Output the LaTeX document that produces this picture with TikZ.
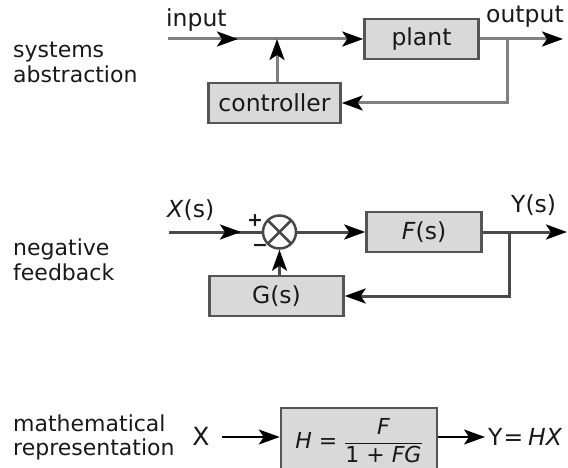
\documentclass[tikz,border=0pt]{standalone}
\usepackage{fontspec}
\setmainfont{DejaVu Sans}
\usetikzlibrary{arrows.meta}
\definecolor{topline}{HTML}{808080}
\definecolor{midline}{HTML}{4A4A4A}
\definecolor{boxfill}{HTML}{D9D9D9}
\definecolor{boxline}{HTML}{555555}
\begin{document}
\begin{tikzpicture}[x=1pt,y=-1pt,
  lbl/.style={font=\fontsize{22}{25}\selectfont, inner sep=0pt, text=black!90},
  big/.style={font=\fontsize{23.5}{25}\selectfont},
  blk/.style={draw=boxline, fill=boxfill, line width=2.5pt, inner sep=0pt,
    minimum height=40pt, text=black!90, font=\fontsize{23.5}{25}\selectfont},
  tip/.style={-{Stealth[length=21pt,width=15pt,inset=5pt,color=black]}},
  wtop/.style={draw=topline, line width=3pt},
  wmid/.style={draw=midline, line width=3pt},
  wbot/.style={draw=black, line width=2pt},
]
\useasboundingbox (0,0) rectangle (568,468);

% ---------- systems abstraction ----------
\node[lbl, anchor=base west] (sa1) at (13,58) {systems};
\node[lbl, anchor=base west] (sa2) at (13,83) {abstraction};
\node[lbl, big, anchor=base west] (inlbl) at (166,27) {input};
\node[lbl, big, anchor=base west] (outlbl) at (486,23) {output};

\node[blk, minimum width=132pt] (ctrl) at (274.5,103) {controller};
\node[blk, minimum width=114pt] (plant) at (421.5,39) {plant};

\coordinate (inS) at (168,39);
\coordinate (inT) at (238,39);
\coordinate (jct) at (277,39);
\coordinate (tapA) at (507,39);
\coordinate (tapB) at (507,103);
\coordinate (outE) at (563,39);

\draw[wtop] (inS) -- (jct);
\draw[wtop, tip] (inS) -- (inT);
\draw[wtop, tip] (jct) -- (plant.west);
\draw[wtop, tip] (plant.east) -- (outE);
\draw[wtop, tip] (tapA) -- (tapB) -- (ctrl.east);
\draw[wtop, tip] (jct |- ctrl.north) -- (jct);

% ---------- negative feedback ----------
\node[lbl, anchor=base west] (nf1) at (13,255) {negative};
\node[lbl, anchor=base west] (nf2) at (13,280) {feedback};
\node[lbl, big, anchor=base west] (xs) at (167,218) {\textit{X}(s)};
\node[lbl, big, anchor=base west] (ys) at (511,213) {Y(s)};

\node[circle, draw=midline, fill=white, line width=2.5pt, minimum size=33pt, inner sep=0pt,
  path picture={\draw[midline, line width=2.5pt]
    (path picture bounding box.north west) -- (path picture bounding box.south east)
    (path picture bounding box.north east) -- (path picture bounding box.south west);}]
  (sum) at (279.5,232) {};
\node[inner sep=0pt, text=black!90, font=\bfseries\fontsize{19}{19}\selectfont] (plus) at (255,221) {+};
\node[inner sep=0pt, text=black!90, font=\bfseries\fontsize{19}{19}\selectfont] (minus) at (260,248) {−};

\node[blk, minimum width=115pt] (F) at (424,232) {\textit{F}(s)};
\node[blk, minimum width=134pt] (G) at (276.5,296) {G(s)};

\coordinate (xS) at (169,232);
\coordinate (xT) at (241,232);
\coordinate (ftapA) at (509,232);
\coordinate (ftapB) at (509,296);
\coordinate (yE) at (567,232);

\draw[wmid] (xS) -- (sum.west);
\draw[wmid, tip] (xS) -- (xT);
\draw[wmid, tip] (sum.east) -- (F.west);
\draw[wmid, tip] (F.east) -- (yE);
\draw[wmid, tip] (ftapA) -- (ftapB) -- (G.east);
\draw[wmid, tip] (sum.south |- G.north) -- (sum.south);

% ---------- mathematical representation ----------
\node[lbl, anchor=base west] (mr1) at (13,431) {mathematical};
\node[lbl, anchor=base west] (mr2) at (13,455) {representation};
\node[lbl, anchor=base, font=\fontsize{25}{25}\selectfont] (X) at (201,445) {X};
\node[blk, minimum width=156pt, minimum height=66pt, font=\fontsize{22}{25}\selectfont] (H) at (359,441)
  {$\mbox{\textit{H} = }\displaystyle\frac{\mbox{\textit{F}}}{\mbox{1 + \textit{FG}}}$};
\node[inner sep=0pt, text=black!90, anchor=base west, font=\fontsize{23.5}{25}\selectfont] (Y) at (488,445) {Y\hspace{1pt}=\hspace{5pt}\textit{HX}};
\coordinate (hE) at (485,437);
\coordinate (xa) at (222,437);

\draw[wbot, tip] (xa) -- (H.west |- hE);
\draw[wbot, tip] (H.east |- hE) -- (hE);
\end{tikzpicture}
\end{document}
